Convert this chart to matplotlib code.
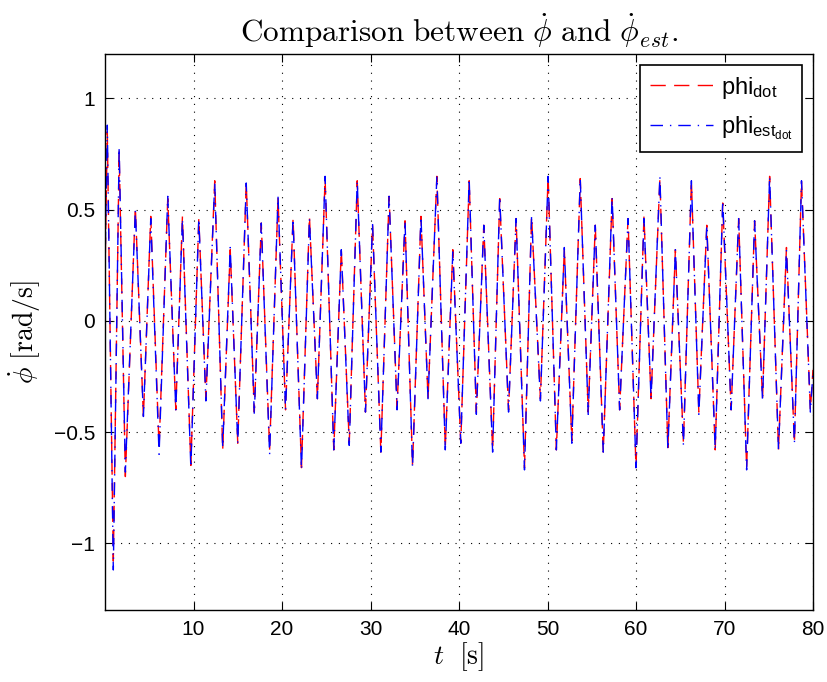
import matplotlib
matplotlib.use('Agg')
import matplotlib.pyplot as plt
from matplotlib.font_manager import FontProperties

# extrema (t in s, phi_dot in rad/s)
t = [0.0, 0.26, 0.94, 1.6, 2.3, 3.43, 4.34, 5.17, 6.11, 7.09, 8.0, 8.75, 9.7, 10.6, 11.4,
     12.4, 13.3, 14.15, 15.0, 15.96, 16.87, 17.66, 18.6, 19.55, 20.4, 21.25, 22.2, 23.1, 24.0,
     24.87, 25.85, 26.7, 27.6, 28.5, 29.43, 30.23, 31.17, 32.1, 33.0, 33.9, 34.75, 35.7, 36.5,
     37.5, 38.45, 39.3, 40.2, 41.15, 41.96, 42.8, 43.8, 44.6, 45.6, 46.45, 47.4, 48.2, 49.2,
     50.07, 51.0, 51.9, 52.75, 53.7, 54.6, 55.4, 56.3, 57.3, 58.15, 59.1, 60.0, 60.9, 61.7,
     62.7, 63.6, 64.45, 65.36, 66.26, 67.1, 68.0, 68.95, 69.8, 70.75, 71.6, 72.5, 73.4, 74.3,
     75.1, 76.1, 77.0, 77.9, 78.7, 79.7, 80.0]

phi_dot = [0.20, 0.85, -1.08, 0.76, -0.70, 0.51, -0.43, 0.47, -0.57, 0.55, -0.40, 0.47, -0.65, 0.46, -0.35,
           0.63, -0.58, 0.32, -0.55, 0.62, -0.41, 0.44, -0.58, 0.55, -0.40, 0.46, -0.66, 0.47, -0.35,
           0.64, -0.58, 0.32, -0.55, 0.63, -0.41, 0.43, -0.59, 0.56, -0.39, 0.45, -0.65, 0.47, -0.35,
           0.65, -0.57, 0.32, -0.55, 0.63, -0.41, 0.43, -0.58, 0.55, -0.40, 0.46, -0.66, 0.47, -0.35,
           0.65, -0.58, 0.32, -0.54, 0.64, -0.41, 0.43, -0.59, 0.55, -0.40, 0.46, -0.66, 0.47, -0.35,
           0.64, -0.57, 0.32, -0.55, 0.63, -0.41, 0.43, -0.58, 0.53, -0.40, 0.46, -0.66, 0.45, -0.35,
           0.65, -0.58, 0.33, -0.55, 0.63, -0.40, -0.22]

phi_est_dot = [0.22, 0.88, -1.12, 0.78, -0.68, 0.50, -0.43, 0.46, -0.60, 0.56, -0.40, 0.46, -0.66, 0.46, -0.36,
               0.62, -0.57, 0.33, -0.55, 0.62, -0.42, 0.44, -0.60, 0.56, -0.40, 0.46, -0.67, 0.46, -0.35,
               0.65, -0.58, 0.32, -0.56, 0.63, -0.41, 0.44, -0.59, 0.56, -0.40, 0.45, -0.66, 0.47, -0.35,
               0.65, -0.58, 0.31, -0.55, 0.64, -0.42, 0.43, -0.59, 0.56, -0.41, 0.46, -0.67, 0.47, -0.36,
               0.65, -0.58, 0.33, -0.55, 0.64, -0.42, 0.43, -0.59, 0.56, -0.40, 0.46, -0.66, 0.46, -0.35,
               0.65, -0.58, 0.32, -0.56, 0.63, -0.42, 0.43, -0.58, 0.54, -0.40, 0.46, -0.67, 0.45, -0.36,
               0.65, -0.58, 0.32, -0.55, 0.63, -0.41, -0.23]

xtick_vals = [10, 20, 30, 40, 50, 60, 70, 80]
ytick_vals = [-1, -0.5, 0, 0.5, 1]
ytick_labels = ['\u22121', '\u22120.5', '0', '0.5', '1']

plt.rcParams['font.family'] = 'Liberation Sans'
plt.rcParams['mathtext.fontset'] = 'cm'
plt.rcParams['mathtext.rm'] = 'Liberation Sans'
plt.rcParams['mathtext.it'] = 'Liberation Sans:italic'

fig = plt.figure(figsize=(8.27, 6.82), dpi=100)
ax = fig.add_axes([105 / 827, 72 / 682, 708 / 827, 556 / 682])

ax.plot(t, phi_dot, color='#ff0000', linewidth=1.0, dashes=(11, 6), label=r'phi$_{\mathrm{dot}}$')
ax.plot(t, phi_est_dot, color='#0000ff', linewidth=1.0, dashes=(9, 5, 1, 5),
        label=r'phi$_{\mathrm{est}_{\mathrm{dot}}}$')

ax.set_xlim(0, 80)
ax.set_ylim(-1.3, 1.2)
ax.set_xticks(xtick_vals)
ax.set_yticks(ytick_vals)
ax.set_yticklabels(ytick_labels)
ax.tick_params(direction='in', length=6, width=0.8, top=True, right=True, labelsize=15, pad=7)
ax.grid(True, linestyle=(0, (1, 6)), color='black', linewidth=0.8)
for s in ax.spines.values():
    s.set_linewidth(1.0)

ax.set_title(r'$\mathrm{Comparison\ between\ }\dot{\phi}\mathrm{\ and\ }\dot{\phi}_{est}.$', fontsize=22.5, pad=9)
ax.set_xlabel(r'$t\ \ \mathrm{[s]}$', fontsize=20, labelpad=1)
ax.set_ylabel(r'$\dot{\phi}\ \mathrm{[rad/s]}$', fontsize=20, labelpad=8)

leg_font = FontProperties(family='Liberation Sans', size=17, math_fontfamily='custom')
leg = ax.legend(loc='upper right', prop=leg_font, fancybox=False, framealpha=1,
                edgecolor='black', handlelength=2.7, handletextpad=0.3, borderpad=0.4,
                labelspacing=0.6, borderaxespad=0, bbox_to_anchor=(0.9845, 0.980))
leg.get_frame().set_linewidth(1.2)

plt.savefig('out.png', dpi=100)
